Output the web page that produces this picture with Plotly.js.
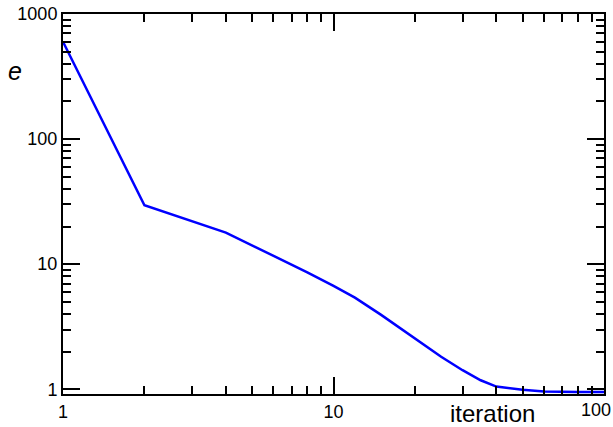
<!DOCTYPE html>
<html>
<head>
<meta charset="utf-8">
<script src="https://cdn.plot.ly/plotly-3.0.1.min.js"></script>
<style>html,body{margin:0;padding:0;background:#fff;}#chart{width:613px;height:427px;}</style>
</head>
<body>
<div id="chart"></div>
<script>
// data
var iteration = [1, 2, 4, 6, 8, 10, 12, 15, 20, 25, 30, 35, 40, 50, 60, 70, 80, 100];
var errorE    = [600, 29.6, 17.9, 11.7, 8.6, 6.7, 5.4, 3.93, 2.55, 1.82, 1.42, 1.18, 1.05, 0.99, 0.96, 0.95, 0.95, 0.95];
var xTickVals = [1, 10];
var xTickText = ['1', '10'];
var xLastTick = 100;
var xLastTickText = '100';
var yTickVals = [1, 10, 100, 1000];
var yTickText = ['1', '10', '100', '1000'];

var FONT = 'Liberation Sans, Arial, Helvetica, sans-serif';

var trace = {
  x: iteration, y: errorE, type: 'scatter', mode: 'lines',
  line: {color: '#0000ff', width: 2.5},
  hoverinfo: 'skip'
};

var axisCommon = {
  type: 'log', showgrid: false, zeroline: false,
  showline: true, linecolor: '#000', linewidth: 2,
  mirror: 'allticks', ticks: 'inside', ticklen: 17, tickwidth: 2, tickcolor: '#000',
  tickfont: {family: FONT, size: 18, color: '#000'},
  minor: {ticks: 'inside', ticklen: 8, tickwidth: 2, tickcolor: '#000', dtick: 'D1', showgrid: false}
};

var layout = {
  width: 613, height: 427,
  margin: {l: 63, r: 9, t: 14, b: 33},
  paper_bgcolor: '#fff', plot_bgcolor: '#fff',
  showlegend: false,
  xaxis: Object.assign({}, axisCommon, {
    range: [0, 2], tickmode: 'array', tickvals: xTickVals, ticktext: xTickText
  }),
  yaxis: Object.assign({}, axisCommon, {
    range: [-0.038, 3], tickmode: 'array', tickvals: yTickVals, ticktext: yTickText
  }),
  annotations: [
    {text: xLastTickText, xref: 'x', yref: 'paper', x: Math.log10(xLastTick), y: 0,
     xanchor: 'center', yanchor: 'top', xshift: -8, yshift: -4, showarrow: false,
     font: {family: FONT, size: 18, color: '#000'}},
    {text: 'iteration', xref: 'paper', yref: 'paper', x: 0.794, y: -0.05,
     xanchor: 'center', yanchor: 'middle', showarrow: false,
     font: {family: FONT, size: 24, color: '#000'}},
    {text: '<i>e</i>', xref: 'paper', yref: 'paper', x: -0.089, y: 0.85,
     xanchor: 'center', yanchor: 'middle', showarrow: false,
     font: {family: FONT, size: 25, color: '#000'}}
  ]
};

Plotly.newPlot('chart', [trace], layout, {staticPlot: true, displayModeBar: false});
</script>
</body>
</html>
